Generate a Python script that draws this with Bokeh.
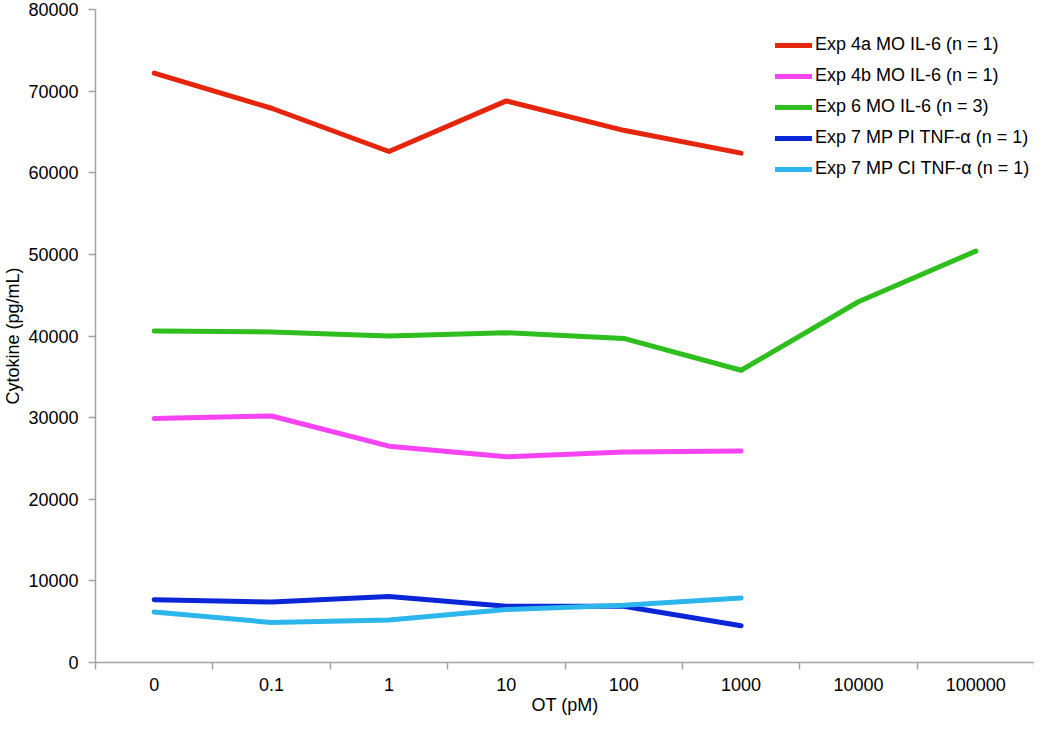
from bokeh.plotting import figure
from bokeh.models import (Range1d, FixedTicker, NumeralTickFormatter, Legend, LegendItem)
from bokeh.embed import file_html
from bokeh.resources import INLINE

# ---- data ----
ot_labels = ["0", "0.1", "1", "10", "100", "1000", "10000", "100000"]
exp4a_il6 = [72200, 67900, 62600, 68800, 65200, 62400]
exp4b_il6 = [29900, 30200, 26500, 25200, 25800, 25900]
exp6_il6 = [40600, 40500, 40000, 40400, 39700, 35800, 44200, 50400]
exp7_pi_tnf = [7700, 7400, 8100, 6900, 6900, 4500]
exp7_ci_tnf = [6200, 4900, 5200, 6500, 7000, 7900]
y_ticks = [0, 10000, 20000, 30000, 40000, 50000, 60000, 70000, 80000]

series = [
    ("Exp 4a MO IL-6 (n = 1)", exp4a_il6, "#E5250C"),
    ("Exp 4b MO IL-6 (n = 1)", exp4b_il6, "#F644F4"),
    ("Exp 6 MO IL-6 (n = 3)", exp6_il6, "#2EBE1E"),
    ("Exp 7 MP PI TNF-\u03b1 (n = 1)", exp7_pi_tnf, "#0A26D6"),
    ("Exp 7 MP CI TNF-\u03b1 (n = 1)", exp7_ci_tnf, "#2DB6EC"),
]

FONT = "Liberation Sans"
AXIS_COL = "#A3A3A3"

p = figure(width=1034, height=717, output_backend="svg", toolbar_location=None,
           x_range=Range1d(-0.5, len(ot_labels) - 0.5), y_range=Range1d(0, 80000),
           min_border_left=95, min_border_right=0, min_border_top=9, min_border_bottom=55)
p.outline_line_color = None
p.xgrid.visible = False
p.ygrid.visible = False

items = []
for name, vals, col in series:
    xs = list(range(len(vals)))
    r = p.line(xs, vals, line_color=col, line_width=5, line_cap="round", line_join="round")
    items.append(LegendItem(label=name, renderers=[r]))

# x axis: labels at category centres, ticks at boundaries
centres = list(range(len(ot_labels)))
bounds = [c - 0.5 for c in centres] + [len(ot_labels) - 0.5]
p.xaxis.ticker = FixedTicker(ticks=centres, minor_ticks=bounds)
p.xaxis.major_label_overrides = {i: lab for i, lab in enumerate(ot_labels)}
p.xaxis.major_tick_line_color = None
p.xaxis.minor_tick_line_color = AXIS_COL
p.xaxis.minor_tick_line_width = 1.5
p.xaxis.minor_tick_out = 7
p.xaxis.minor_tick_in = 0
p.xaxis.major_label_standoff = 8
p.xaxis.axis_label = "OT (pM)"
p.xaxis.axis_label_standoff = 1

p.yaxis.ticker = FixedTicker(ticks=y_ticks)
p.yaxis.formatter = NumeralTickFormatter(format="0")
p.yaxis.major_tick_line_color = AXIS_COL
p.yaxis.major_tick_line_width = 1.5
p.yaxis.major_tick_out = 7
p.yaxis.major_tick_in = 0
p.yaxis.minor_tick_line_color = None
p.yaxis.major_label_standoff = 10
p.yaxis.axis_label = "Cytokine (pg/mL)"
p.yaxis.axis_label_standoff = 2

for ax in (p.xaxis, p.yaxis):
    ax.axis_line_color = AXIS_COL
    ax.axis_line_width = 1.5
    ax.major_label_text_font = FONT
    ax.major_label_text_font_size = "18px"
    ax.major_label_text_color = "black"
    ax.axis_label_text_font = FONT
    ax.axis_label_text_font_size = "18px"
    ax.axis_label_text_font_style = "normal"
    ax.axis_label_text_color = "black"

legend = Legend(items=items, location=(680, 483), border_line_color=None,
                background_fill_alpha=0, padding=0, margin=0, spacing=10,
                glyph_width=37, glyph_height=20, label_height=20, label_standoff=3,
                label_text_font=FONT, label_text_font_size="18px", label_text_color="black")
p.add_layout(legend)

open("out.html", "w").write(file_html(p, INLINE))
